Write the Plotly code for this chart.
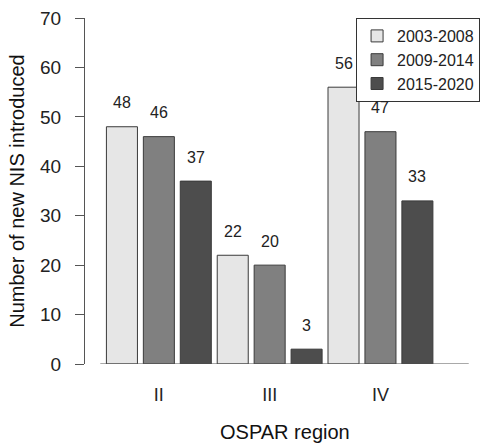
import plotly.graph_objects as go

regions = ["II", "III", "IV"]
periods = ["2003-2008", "2009-2014", "2015-2020"]
values = {
    "2003-2008": [48, 22, 56],
    "2009-2014": [46, 20, 47],
    "2015-2020": [37, 3, 33],
}
colors = {"2003-2008": "#E6E6E6", "2009-2014": "#808080", "2015-2020": "#4D4D4D"}

FONT = "Liberation Sans, Arial, sans-serif"
fig = go.Figure()
n_per = len(periods)
group_centers = []
annotations = []
for gi, reg in enumerate(regions):
    group_centers.append(gi * (n_per) + 1 + (n_per - 1) / 2)
for pi, per in enumerate(periods):
    xs = [gi * n_per + 1 + pi for gi in range(len(regions))]
    fig.add_trace(go.Bar(
        x=xs, y=values[per], name=per, width=0.84,
        marker=dict(color=colors[per], line=dict(color="#3a3a3a", width=1)),
    ))
    for x, v in zip(xs, values[per]):
        annotations.append(dict(x=x, y=v, text=str(v), showarrow=False, yshift=24,
                                yanchor="middle", font=dict(size=16, color="#222", family=FONT)))

annotations.append(dict(text="OSPAR region", xref="paper", yref="paper", x=0.513, y=-0.1965,
                        yanchor="middle", xanchor="center", showarrow=False,
                        font=dict(size=20, color="#111", family=FONT)))
annotations.append(dict(text="Number of new NIS introduced", xref="paper", yref="paper",
                        x=-0.175, y=0.5, textangle=-90, xanchor="center", yanchor="middle",
                        showarrow=False, font=dict(size=20, color="#111", family=FONT)))

fig.add_shape(type="line", x0=0.414, x1=10.39, y0=0, y1=0, xref="x", yref="y",
              line=dict(color="#555", width=1.2))

fig.update_layout(
    width=486, height=444,
    margin=dict(l=85, r=6, t=18, b=80),
    paper_bgcolor="white", plot_bgcolor="white",
    font=dict(family=FONT, color="#222"),
    barmode="overlay",
    showlegend=True,
    legend=dict(x=1.013, xanchor="right", y=1, yanchor="top",
                bordercolor="#333", borderwidth=1, font=dict(size=16, color="#222"),
                bgcolor="white", traceorder="normal"),
    annotations=annotations,
)
fig.update_xaxes(range=[0, 10.56], tickmode="array", tickvals=group_centers, ticktext=regions,
                 showgrid=False, zeroline=False, showline=False, ticks="", automargin=False,
                 ticklabelstandoff=18, tickfont=dict(size=18))
fig.update_yaxes(range=[0, 70], tickmode="array", tickvals=list(range(0, 71, 10)),
                 showgrid=False, zeroline=False, showline=True, linecolor="#555", linewidth=1.2,
                 ticks="outside", ticklen=9, tickcolor="#555", tickwidth=1.2, automargin=False,
                 ticklabelstandoff=10, tickfont=dict(size=19))

fig.write_html("out.html", config={"displayModeBar": False},
               post_script="document.body.style.margin='0';")
